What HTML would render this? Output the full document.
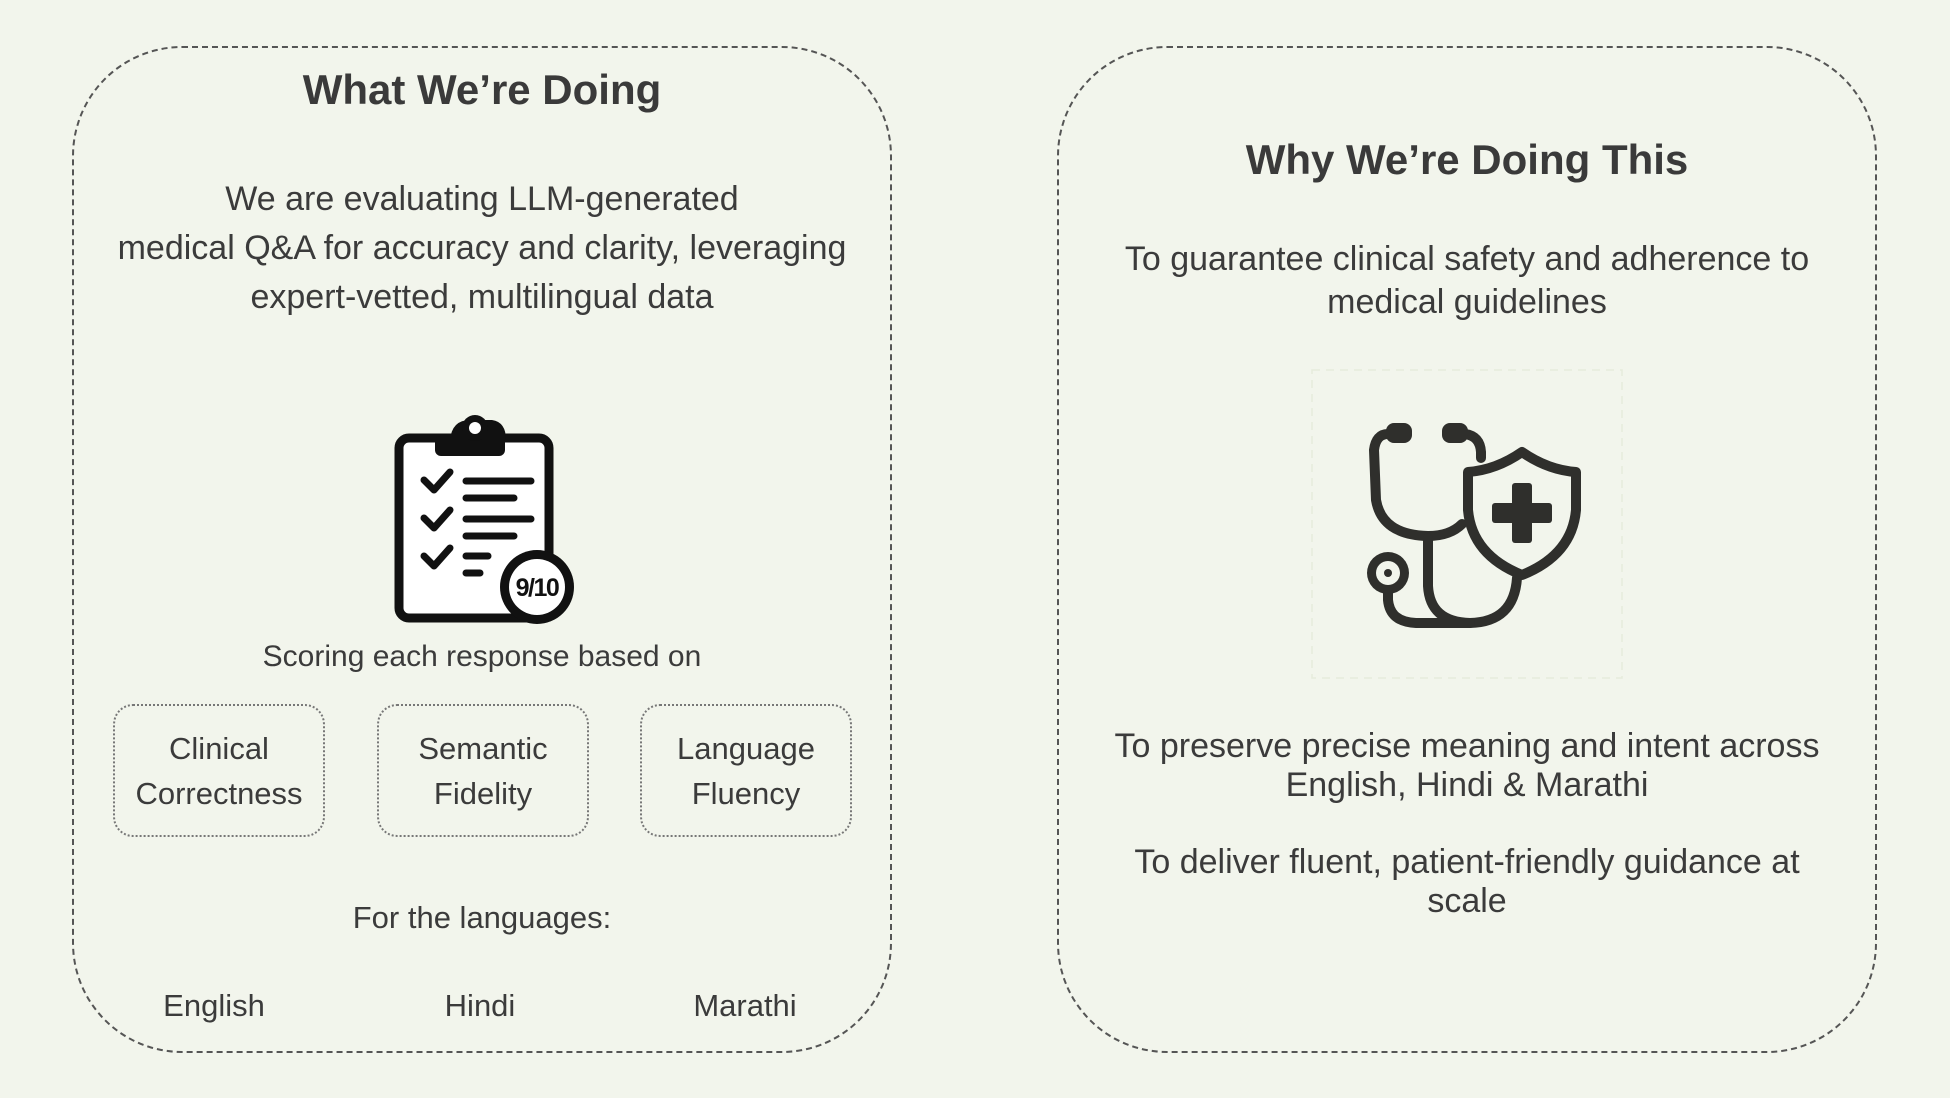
<!DOCTYPE html>
<html><head><meta charset="utf-8"><style>
body{margin:0;width:1950px;height:1098px;background:#f2f5ec;position:relative;overflow:hidden;font-family:"Liberation Sans",sans-serif;color:#3b3b3b}
.card{position:absolute;top:46px;height:1007px;width:820px;border:2px dashed #555;border-radius:110px;box-sizing:border-box}
.t{position:absolute;text-align:center;white-space:nowrap}
.h{font-weight:bold;font-size:42px;color:#3a3a3a}
.b{font-size:34px;line-height:49px}
.box{position:absolute;top:704px;width:212px;height:133px;border:2px dotted #777;border-radius:20px;box-sizing:border-box;display:flex;align-items:center;justify-content:center;text-align:center;font-size:31px;line-height:45px}
</style></head><body>
<div class="card" style="left:72px"></div>
<div class="card" style="left:1057px"></div>

<div class="t h" style="left:72px;width:820px;top:66px">What We’re Doing</div>
<div class="t b" style="left:72px;width:820px;top:175px">We are evaluating LLM-generated<br>medical Q&amp;A for accuracy and clarity, leveraging<br>expert-vetted, multilingual data</div>

<svg style="position:absolute;left:380px;top:390px" width="220" height="260" viewBox="0 0 220 260">
<rect x="19" y="48" width="150" height="180" rx="10" fill="#fff" stroke="#111" stroke-width="9"/>
<rect x="55" y="46" width="70" height="20" rx="6" fill="#111"/>
<path d="M70 50 Q72 30 90 30 L112 30 Q126 32 126 50 Z" fill="#111"/>
<circle cx="95" cy="38" r="13" fill="#111"/><circle cx="95" cy="38" r="6" fill="#fff"/>
<g fill="none" stroke="#111" stroke-width="7" stroke-linecap="round" stroke-linejoin="round">
<path d="M44 90 L54 100 L70 82"/><path d="M44 128 L54 138 L70 120"/><path d="M44 166 L54 176 L70 158"/>
<path d="M86 91 H151 M86 108 H134 M86 129 H151 M86 146 H134 M86 166 H108 M86 183 H100"/>
</g>
<circle cx="157" cy="197" r="37" fill="#111"/><circle cx="157" cy="197" r="28" fill="#fff"/>
<text x="157" y="206" text-anchor="middle" font-family="Liberation Sans" font-weight="bold" font-size="25" fill="#111" letter-spacing="-1.5">9/10</text>
</svg>

<div class="t" style="left:72px;width:820px;top:640px;font-size:30px">Scoring each response based on</div>
<div class="box" style="left:113px">Clinical<br>Correctness</div>
<div class="box" style="left:377px">Semantic<br>Fidelity</div>
<div class="box" style="left:640px">Language<br>Fluency</div>
<div class="t" style="left:72px;width:820px;top:900px;font-size:31px">For the languages:</div>
<div class="t" style="left:114px;width:200px;top:988px;font-size:31px">English</div>
<div class="t" style="left:380px;width:200px;top:988px;font-size:31px">Hindi</div>
<div class="t" style="left:645px;width:200px;top:988px;font-size:31px">Marathi</div>

<div class="t h" style="left:1057px;width:820px;top:136px">Why We’re Doing This</div>
<div class="t b" style="left:1057px;width:820px;top:238px;line-height:43px">To guarantee clinical safety and adherence to<br>medical guidelines</div>

<svg style="position:absolute;left:1300px;top:360px" width="340" height="330" viewBox="0 0 340 330">
<rect x="12" y="10" width="310" height="308" fill="none" stroke="#e6ebdc" stroke-width="1.5" stroke-dasharray="8 6"/>
<g fill="none" stroke="#2f2f2c" stroke-width="10" stroke-linecap="round">
<path d="M88 74 Q76 74 74 90 L76 140 Q82 175 128 176 Q150 176 162 164"/>
<path d="M165 74 Q180 76 181 92 L181 98"/>
<path d="M128 178 L128 226 Q130 262 170 263 Q214 262 217 218"/>
<path d="M88 228 L88 240 Q90 262 116 263 L170 263"/>
<path d="M222 92 Q196 110 168 112 L168 150 Q172 195 222 215 Q272 195 276 150 L276 112 Q248 110 222 92 Z" stroke-linejoin="round"/>
</g>
<rect x="86" y="63" width="26" height="20" rx="8" fill="#2f2f2c"/>
<rect x="142" y="63" width="26" height="20" rx="8" fill="#2f2f2c"/>
<rect x="212" y="123" width="20" height="60" rx="3" fill="#2f2f2c"/>
<rect x="192" y="143" width="60" height="20" rx="3" fill="#2f2f2c"/>
<circle cx="88" cy="213" r="21" fill="#2f2f2c"/><circle cx="88" cy="213" r="12" fill="#f2f5ec"/><circle cx="88" cy="213" r="4" fill="#2f2f2c"/>
</svg>

<div class="t b" style="left:1057px;width:820px;top:727px;line-height:39px">To preserve precise meaning and intent across<br>English, Hindi &amp; Marathi</div>
<div class="t b" style="left:1057px;width:820px;top:843px;line-height:39px">To deliver fluent, patient-friendly guidance at<br>scale</div>
</body></html>
